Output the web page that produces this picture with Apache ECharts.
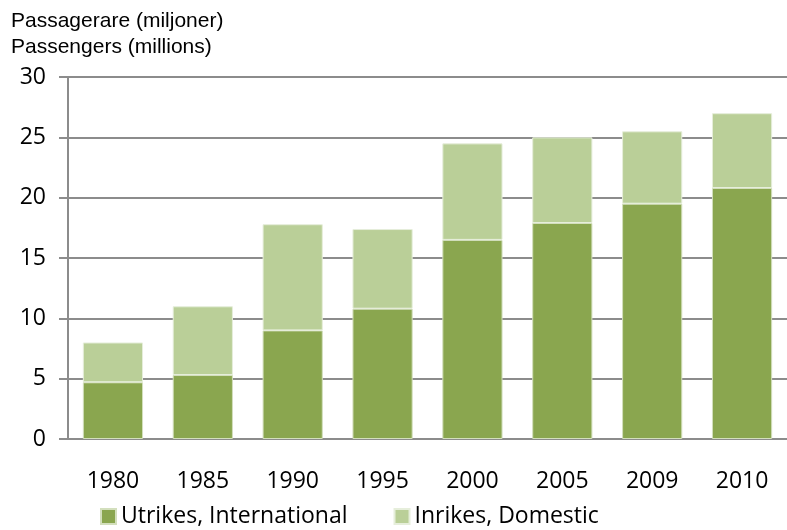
<!DOCTYPE html>
<html><head><meta charset="utf-8">
<script src="https://cdn.jsdelivr.net/npm/echarts@6/dist/echarts.min.js"></script>
<style>html,body{margin:0;padding:0;background:#fff}#c{width:787px;height:530px}</style>
</head><body><div id="c"></div>
<script>
const categories = ['1980','1985','1990','1995','2000','2005','2009','2010'];
const international = [4.7, 5.3, 9.0, 10.8, 16.5, 17.9, 19.5, 20.8];
const domestic = [3.3, 5.7, 8.8, 6.6, 8.0, 7.1, 6.0, 6.2];
const yTicks = [0, 5, 10, 15, 20, 25, 30];
const seriesNames = ['Utrikes, International', 'Inrikes, Domestic'];
const titleLines = ['Passagerare (miljoner)', 'Passengers (millions)'];

const chart = echarts.init(document.getElementById('c'));
const lblFont = "'Open Sans', 'Liberation Sans', sans-serif";
chart.setOption({
  animation: false,
  title: {
    text: titleLines.join('\n'), left: 6, top: 3,
    textStyle: {fontFamily: "'Liberation Sans', Arial, sans-serif", fontSize: 21, fontWeight: 'normal', color: '#000', lineHeight: 26}
  },
  legend: {
    bottom: -3, left: 95, itemGap: 46, itemWidth: 15, itemHeight: 15, icon: 'rect',
    data: seriesNames,
    textStyle: {fontFamily: lblFont, fontSize: 23, color: '#000'}
  },
  grid: {left: 68, right: -1, top: 77, bottom: 91},
  xAxis: {
    type: 'category', data: categories,
    axisLine: {lineStyle: {color: '#8c8c8c', width: 2}},
    axisTick: {show: false},
    axisLabel: {fontFamily: lblFont, fontSize: 23, color: '#000', margin: 31}
  },
  yAxis: {
    type: 'value', min: yTicks[0], max: yTicks[yTicks.length-1], interval: 5,
    axisLine: {show: true, lineStyle: {color: '#8c8c8c', width: 2}},
    axisTick: {show: true, length: 9, lineStyle: {color: '#8c8c8c', width: 2}},
    splitLine: {lineStyle: {color: '#8c8c8c', width: 2}},
    axisLabel: {fontFamily: lblFont, fontSize: 23, color: '#000', margin: 22}
  },
  series: [
    {name: seriesNames[0], type: 'bar', stack: 't', data: international, barWidth: '67%',
     itemStyle: {color: '#8aa64f', borderColor: '#d3dfbd', borderWidth: 1}},
    {name: seriesNames[1], type: 'bar', stack: 't', data: domestic, barWidth: '67%',
     itemStyle: {color: '#bacf98', borderColor: '#e6eedb', borderWidth: 1}}
  ]
});
</script></body></html>
